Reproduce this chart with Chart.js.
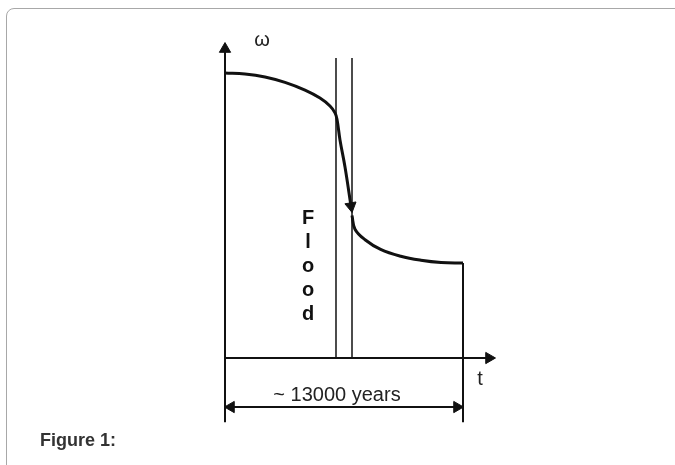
<!DOCTYPE html>
<html>
<head>
<meta charset="utf-8">
<script src="https://cdn.jsdelivr.net/npm/chart.js@4.4.0/dist/chart.umd.min.js"></script>
<style>
  body { margin: 0; background: #fff; }
  #wrap { position: relative; width: 675px; height: 465px; overflow: hidden; }
  #frame { position: absolute; left: 6px; top: 8px; width: 700px; height: 500px;
           border: 1.5px solid #a8a8a8; border-radius: 8px; }
  #caption { position: absolute; left: 40px; top: 430px; font: bold 18px "Liberation Sans", Arial, sans-serif; color: #333; }
  #chart { position: absolute; left: 0; top: 0; }
</style>
</head>
<body>
<div id="wrap">
  <div id="frame"></div>
  <canvas id="chart" width="675" height="465"></canvas>
  <div id="caption">Figure 1:</div>
</div>
<script>
// omega before and during the flood (years from start, relative omega)
const upperYears = [0, 1092, 2185, 3277, 4370, 5189, 5735, 6008, 6117, 6281, 6555, 6882];
const upperOmega = [1.0, 0.9965, 0.986, 0.967, 0.940, 0.912, 0.884, 0.860, 0.838, 0.765, 0.670, 0.533];
// omega after the flood
const lowerYears = [6937, 7100, 7650, 8500, 9600, 10700, 11800, 13000];
const lowerOmega = [0.500, 0.452, 0.415, 0.381, 0.357, 0.343, 0.335, 0.333];

// flood band edges and period span
const floodStart = 6063;
const floodEnd = 6937;
const periodYears = 13000;
const bandTop = 1.053;
const axisBottom = -0.225;
const spanLevel = -0.172;

// arrow heads
const arrowYears = [0, 14420, 6882, 328, 12672];
const arrowOmega = [1.084, 0, 0.533, -0.172, -0.172];

const yLabel = 'ω';
const xLabel = 't';
const floodLabel = 'Flood';
const spanLabel = '~ 13000 years';

const pts = (xs, ys) => xs.map((x, i) => ({ x: x, y: ys[i] }));
const seg = (x1, y1, x2, y2) => [{ x: x1, y: y1 }, { x: x2, y: y2 }];

const lineStyle = (w) => ({ showLine: true, borderColor: '#111', borderWidth: w, pointRadius: 0, fill: false });

const labelsPlugin = {
  id: 'labels',
  afterDatasetsDraw(chart) {
    const ctx = chart.ctx;
    const xs = chart.scales.x, ys = chart.scales.y;
    ctx.save();
    ctx.fillStyle = '#222';
    ctx.textAlign = 'center';
    ctx.textBaseline = 'middle';
    ctx.font = '20px "Liberation Sans", Arial, sans-serif';
    ctx.fillText(yLabel, xs.getPixelForValue(2021), ys.getPixelForValue(1.115));
    ctx.fillText(xLabel, xs.getPixelForValue(13928), ys.getPixelForValue(-0.077));
    ctx.fillText(spanLabel, xs.getPixelForValue(6117), ys.getPixelForValue(-0.130));
    ctx.font = 'bold 20px "Liberation Sans", Arial, sans-serif';
    ctx.fillStyle = '#111';
    const fx = xs.getPixelForValue(4534);
    floodLabel.split('').forEach((ch, i) => {
      ctx.fillText(ch, fx, ys.getPixelForValue(0.488) + i * 24);
    });
    ctx.restore();
  }
};

new Chart(document.getElementById('chart'), {
  type: 'scatter',
  data: {
    datasets: [
      { data: pts(upperYears, upperOmega), ...lineStyle(3), tension: 0.4 },
      { data: pts(lowerYears, lowerOmega), ...lineStyle(3), tension: 0.4 },
      { data: seg(0, axisBottom, 0, 1.084), ...lineStyle(2) },
      { data: seg(0, 0, 14420, 0), ...lineStyle(2) },
      { data: seg(floodStart, 0, floodStart, bandTop), ...lineStyle(1.5) },
      { data: seg(floodEnd, 0, floodEnd, bandTop), ...lineStyle(1.5) },
      { data: seg(periodYears, lowerOmega[lowerOmega.length - 1], periodYears, axisBottom), ...lineStyle(2) },
      { data: seg(0, spanLevel, periodYears, spanLevel), ...lineStyle(2) },
      {
        data: pts(arrowYears, arrowOmega),
        showLine: false,
        pointStyle: 'triangle',
        pointRadius: 6.5,
        pointRotation: [0, 90, 170.5, 270, 90],
        backgroundColor: '#111',
        borderColor: '#111',
        borderWidth: 1
      }
    ]
  },
  options: {
    responsive: false,
    animation: false,
    devicePixelRatio: 1,
    layout: { padding: 0, autoPadding: false },
    plugins: { legend: { display: false }, tooltip: { enabled: false } },
    scales: {
      x: { type: 'linear', display: false, min: -12289.9, max: 24579.8 },
      y: { type: 'linear', display: false, min: -0.3754, max: 1.2561 }
    }
  },
  plugins: [labelsPlugin]
});
</script>
</body>
</html>
